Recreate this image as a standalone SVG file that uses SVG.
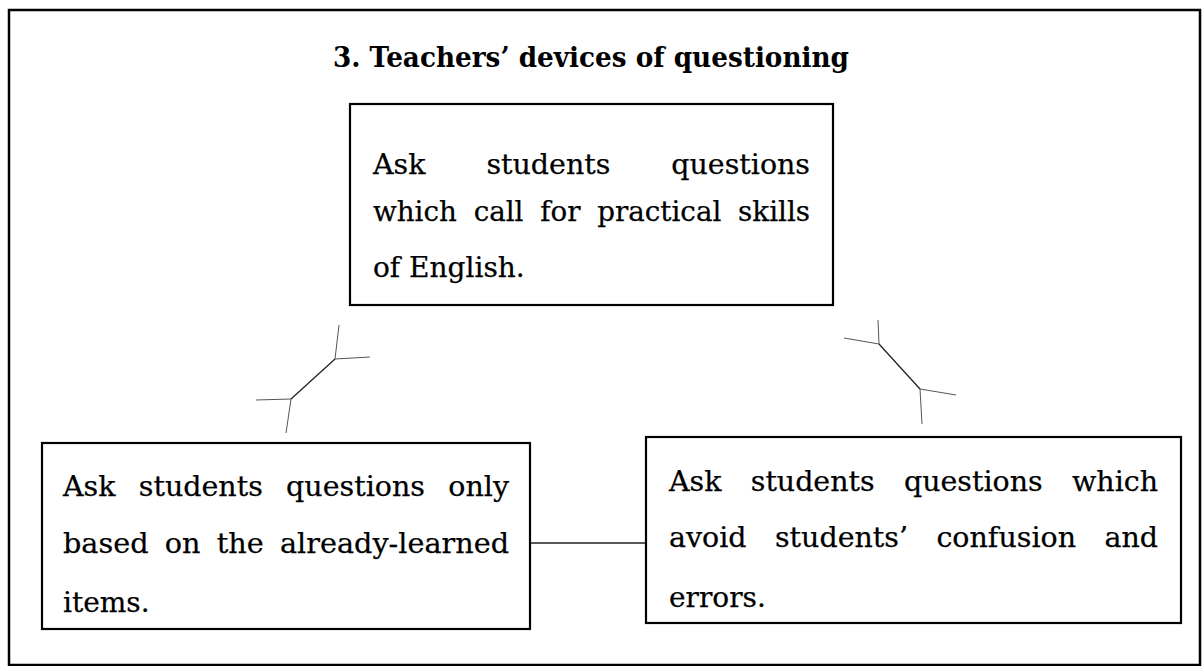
<svg xmlns="http://www.w3.org/2000/svg" width="1202" height="666" viewBox="0 0 1202 666">
<style>
.box{fill:#fff;stroke:#000;stroke-width:2.2}
.t{font-family:"DejaVu Serif","Liberation Serif",serif;font-size:28px;fill:#000;stroke:#000;stroke-width:0.25}
.title{font-family:"DejaVu Serif","Liberation Serif",serif;font-size:27px;font-weight:bold;fill:#000}
.c{fill:none;stroke:#222;stroke-width:1.3}
.cl{fill:none;stroke:#555;stroke-width:1}
</style>
<rect x="0" y="0" width="1202" height="666" fill="#fff"/>
<rect id="frame" x="9" y="10" width="1191" height="655" fill="none" stroke="#000" stroke-width="2.5"/>
<text class="title" x="333" y="67" textLength="516" lengthAdjust="spacingAndGlyphs">3. Teachers’ devices of questioning</text>
<g id="connectors">
<line class="c" x1="530" y1="543" x2="646" y2="543"/>
<g id="link-left">
<line class="c" x1="291" y1="399" x2="335" y2="359"/>
<line class="cl" x1="335" y1="359" x2="339" y2="325"/>
<line class="cl" x1="335" y1="359" x2="370" y2="357"/>
<line class="cl" x1="291" y1="399" x2="256" y2="400"/>
<line class="cl" x1="291" y1="399" x2="286" y2="433"/>
</g>
<g id="link-right">
<line class="c" x1="879" y1="344" x2="920" y2="389"/>
<line class="cl" x1="879" y1="344" x2="878" y2="320"/>
<line class="cl" x1="879" y1="344" x2="844" y2="338"/>
<line class="cl" x1="920" y1="389" x2="956" y2="395"/>
<line class="cl" x1="920" y1="389" x2="922" y2="424"/>
</g>
</g>
<g id="node-top">
<rect class="box" x="350" y="104" width="483" height="201"/>
<text class="t" x="373" y="174" word-spacing="51" textLength="437" lengthAdjust="spacingAndGlyphs">Ask students questions</text>
<text class="t" x="373" y="221" word-spacing="8" textLength="437" lengthAdjust="spacingAndGlyphs">which call for practical skills</text>
<text class="t" x="373" y="277">of English.</text>
</g>
<g id="node-left">
<rect class="box" x="42" y="443" width="488" height="186"/>
<text class="t" x="63" y="496" word-spacing="14" textLength="446" lengthAdjust="spacingAndGlyphs">Ask students questions only</text>
<text class="t" x="63" y="553" word-spacing="7" textLength="446" lengthAdjust="spacingAndGlyphs">based on the already-learned</text>
<text class="t" x="63" y="612">items.</text>
</g>
<g id="node-right">
<rect class="box" x="646" y="437" width="535" height="186"/>
<text class="t" x="669" y="491" word-spacing="20" textLength="489" lengthAdjust="spacingAndGlyphs">Ask students questions which</text>
<text class="t" x="669" y="547" word-spacing="19" textLength="489" lengthAdjust="spacingAndGlyphs">avoid students’ confusion and</text>
<text class="t" x="669" y="607">errors.</text>
</g>
</svg>
